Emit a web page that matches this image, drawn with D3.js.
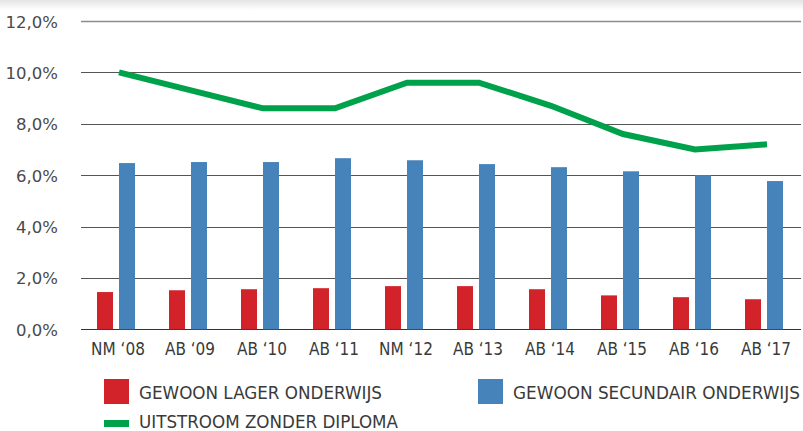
<!DOCTYPE html>
<html>
<head>
<meta charset="utf-8">
<script src="https://cdn.jsdelivr.net/npm/d3@7"></script>
<style>
  body { margin: 0; background: #fff; }
  svg { display: block; }
</style>
</head>
<body>
<svg width="803" height="431"></svg>
<script>
const svg = d3.select("svg");
const width = +svg.attr("width");
const height = +svg.attr("height");

const categories = ["NM \u201808", "AB \u201809", "AB \u201810", "AB \u201811", "NM \u201812",
  "AB \u201813", "AB \u201814", "AB \u201815", "AB \u201816", "AB \u201817"];
const lager = [1.45, 1.52, 1.56, 1.6, 1.68, 1.68, 1.56, 1.32, 1.25, 1.17];
const secundair = [6.47, 6.51, 6.51, 6.66, 6.58, 6.43, 6.31, 6.15, 6.0, 5.77];
const uitstroom = [10.0, 9.3, 8.6, 8.6, 9.6, 9.6, 8.7, 7.6, 7.0, 7.2];
const yTicks = [0, 2, 4, 6, 8, 10, 12];

const red = "#d2232a", blue = "#4683ba", green = "#00a14b";

const x = d3.scaleBand().domain(categories).range([81, 801]);
const y = d3.scaleLinear().domain([0, 12]).range([329.3, 21]);

// soft shadow at the top
const grad = svg.append("defs").append("linearGradient")
  .attr("id", "shade").attr("x1", 0).attr("y1", 0).attr("x2", 0).attr("y2", 1);
grad.append("stop").attr("offset", 0).attr("stop-color", "#e4e4e4");
grad.append("stop").attr("offset", 1).attr("stop-color", "#fff");
svg.append("rect").attr("x", 0).attr("y", 0).attr("width", width).attr("height", 10)
  .attr("fill", "url(#shade)");

// gridlines
svg.append("g")
  .selectAll("line")
  .data(yTicks)
  .join("line")
  .attr("x1", 81).attr("x2", 801)
  .attr("y1", d => Math.round(y(d)) + 0.5)
  .attr("y2", d => Math.round(y(d)) + 0.5)
  .attr("stroke", d => d === 12 ? "#8c8c8c" : d === 0 ? "#333" : "#555")
  .attr("stroke-width", d => d === 12 ? 1.5 : 1);

// y labels
svg.append("g")
  .selectAll("text")
  .data(yTicks)
  .join("text")
  .attr("x", 58)
  .attr("y", d => y(d) + 6.5)
  .attr("text-anchor", "end")
  .attr("font-family", "'DejaVu Sans', sans-serif")
  .attr("font-size", 16.5)
  .attr("fill", "#4a4a4a")
  .text(d => d.toFixed(1).replace(".", ",") + "%");

// bars
const bw = 16;
svg.append("g")
  .selectAll("rect")
  .data(lager)
  .join("rect")
  .attr("x", (d, i) => x(categories[i]) + x.bandwidth() / 2 - 20)
  .attr("y", d => y(d))
  .attr("width", bw)
  .attr("height", d => y(0) - y(d))
  .attr("fill", red);

svg.append("g")
  .selectAll("rect")
  .data(secundair)
  .join("rect")
  .attr("x", (d, i) => x(categories[i]) + x.bandwidth() / 2 + 2)
  .attr("y", d => y(d))
  .attr("width", bw)
  .attr("height", d => y(0) - y(d))
  .attr("fill", blue);

// line
const line = d3.line()
  .x((d, i) => x(categories[i]) + x.bandwidth() / 2 + 2)
  .y(d => y(d));

svg.append("path")
  .datum(uitstroom)
  .attr("d", line)
  .attr("fill", "none")
  .attr("stroke", green)
  .attr("stroke-width", 6);

// x labels
svg.append("g")
  .selectAll("text")
  .data(categories)
  .join("text")
  .attr("x", d => x(d) + x.bandwidth() / 2 + 1)
  .attr("y", 355)
  .attr("text-anchor", "middle")
  .attr("font-family", "'Liberation Sans Narrow', 'DejaVu Sans Condensed', sans-serif")
  .attr("font-size", 17)
  .attr("fill", "#3a3a3a")
  .text(d => d);

// legend
const legend = [
  { label: "GEWOON LAGER ONDERWIJS", color: red, type: "box", x: 104, y: 379, ty: 20, fs: 18, w: 243 },
  { label: "GEWOON SECUNDAIR ONDERWIJS", color: blue, type: "box", x: 478, y: 379, ty: 20, fs: 18, w: 287 },
  { label: "UITSTROOM ZONDER DIPLOMA", color: green, type: "line", x: 104, y: 413, ty: 14.5, fs: 17, w: 259 }
];

const lg = svg.append("g")
  .selectAll("g")
  .data(legend)
  .join("g")
  .attr("transform", d => `translate(${d.x},${d.y})`);

lg.append("rect")
  .attr("x", 0)
  .attr("y", d => d.type === "box" ? 0 : 7)
  .attr("width", 25)
  .attr("height", d => d.type === "box" ? 25 : 7)
  .attr("fill", d => d.color);

lg.append("text")
  .attr("x", 35)
  .attr("y", d => d.ty)
  .attr("font-family", "'Liberation Sans Narrow', 'DejaVu Sans Condensed', sans-serif")
  .attr("font-size", d => d.fs)
  .attr("fill", "#3a3a3a")
  .attr("textLength", d => d.w)
  .attr("lengthAdjust", "spacingAndGlyphs")
  .text(d => d.label);
</script>
</body>
</html>
